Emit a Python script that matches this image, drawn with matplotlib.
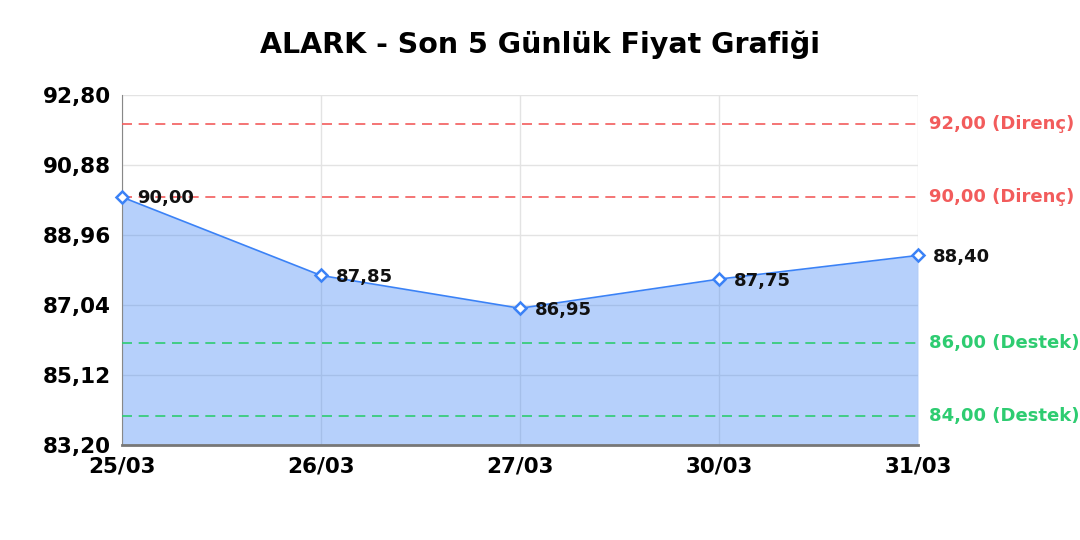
import numpy as np
import matplotlib
matplotlib.use('Agg')
from matplotlib import pyplot as plt

# data
dates = ['25/03', '26/03', '27/03', '30/03', '31/03']
prices = [90.00, 87.85, 86.95, 87.75, 88.40]
resistance = [92.00, 90.00]
support = [86.00, 84.00]
y_ticks = [83.20, 85.12, 87.04, 88.96, 90.88, 92.80]

red = '#f25c5c'
green = '#2ecc71'
blue = '#3b82f6'

def tr(v):
    return f'{v:.2f}'.replace('.', ',')

plt.rcParams['font.family'] = ['DejaVu Sans']

fig = plt.figure(figsize=(10.8, 5.4), dpi=100)
ax = fig.add_axes([0.113, 0.176, 0.737, 0.648])

x = np.arange(len(dates))
# semi transparent fill so the grid shows through like the original
ax.fill_between(x, prices, y_ticks[0], color=blue, alpha=0.37, lw=0, zorder=2)
ax.plot(x, prices, color=blue, lw=1.2, zorder=3)
ax.plot(x, prices, ls='none', marker='D', ms=6.5, mfc='white', mec=blue, mew=1.8, zorder=4,
        clip_on=False)

for xi, p in zip(x, prices):
    ax.annotate(tr(p), (xi, p), xytext=(11, -1), textcoords='offset points',
                fontsize=13, fontweight='bold', color='#111111', va='center', ha='left',
                zorder=5)

for r in resistance:
    ax.axhline(r, color=red, ls=(0, (6, 4)), lw=1.2, zorder=3)
    ax.text(1.014, r, f'{tr(r)} (Direnç)', transform=ax.get_yaxis_transform(),
            color=red, fontsize=13, fontweight='bold', va='center', ha='left')
for s in support:
    ax.axhline(s, color=green, ls=(0, (6, 4)), lw=1.2, zorder=3)
    ax.text(1.014, s, f'{tr(s)} (Destek)', transform=ax.get_yaxis_transform(),
            color=green, fontsize=13, fontweight='bold', va='center', ha='left')

ax.set_xlim(0, len(dates) - 1)
ax.set_ylim(y_ticks[0], y_ticks[-1])
ax.set_xticks(x)
ax.set_xticklabels(dates, fontsize=15.5, fontweight='bold')
ax.set_yticks(y_ticks)
ax.set_yticklabels([tr(v) for v in y_ticks], fontsize=15.5, fontweight='bold')
ax.tick_params(length=0, pad=8)
ax.grid(True, color='#e3e3e3', lw=1, zorder=1)
ax.set_axisbelow(True)

for side in ['top', 'right']:
    ax.spines[side].set_visible(False)
ax.spines['left'].set_color('#888888')
ax.spines['bottom'].set_color('#777777')
ax.spines['bottom'].set_linewidth(2)

fig.text(0.5, 0.917, 'ALARK - Son 5 Günlük Fiyat Grafiği', fontsize=20.5, fontweight='bold',
         ha='center', va='center')

plt.savefig('out.png', dpi=100)
